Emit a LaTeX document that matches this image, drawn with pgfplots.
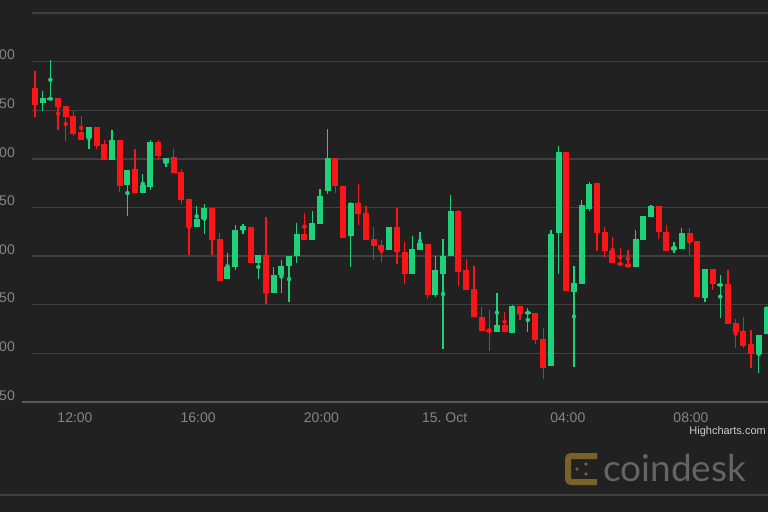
\documentclass[border=0pt]{standalone}
\usepackage{pgfplots}
\usepackage{pgfplotstable}
\pgfplotsset{compat=1.18}
\usepackage{fontspec}
\setmainfont{Liberation Sans}
\newfontfamily\logofont{Lato}

\definecolor{bg}{HTML}{212121}
\definecolor{gridc}{HTML}{404040}
\definecolor{axisc}{HTML}{585858}
\definecolor{ticklab}{HTML}{858585}
\definecolor{cred}{RGB}{250,22,22}
\definecolor{cgreen}{RGB}{30,210,122}
\definecolor{hcgrey}{HTML}{CCCCCC}
\definecolor{logotext}{HTML}{646464}
\definecolor{logogold}{HTML}{7A6128}

% 15-minute candles, x in hours from 14 Oct 00:00
% x open high low close
\pgfplotstableread{
x o h l c
10.75 8473 8490 8443 8456
11.50 8463 8463 8430 8453
11.75 8454 8454 8418 8443
12.00 8444 8449 8424 8426
12.25 8428 8444 8420 8420
12.75 8433 8433 8410 8413
13.00 8415 8419 8399 8399
13.50 8419 8419 8366 8372
14.00 8390 8410 8365 8365
14.75 8417 8419 8399 8403
15.25 8402 8410 8386 8386
15.50 8387 8390 8354 8358
15.75 8359 8359 8301 8330
16.50 8349 8349 8301 8317
16.75 8318 8324 8275 8275
17.75 8330 8330 8293 8293
18.25 8301 8340 8251 8262
19.50 8323 8344 8317 8317
20.50 8401 8401 8365 8372
20.75 8372 8372 8319 8319
21.25 8355 8374 8332 8343
21.50 8344 8352 8317 8317
21.75 8318 8330 8296 8311
22.00 8312 8317 8294 8306
22.50 8330 8350 8292 8304
22.75 8304 8315 8271 8282
23.50 8312 8312 8256 8260
24.50 8347 8347 8269 8284
24.75 8286 8297 8265 8265
25.00 8266 8290 8237 8237
25.25 8238 8248 8223 8223
25.50 8224 8245 8203 8222
26.00 8229 8243 8222 8222
26.50 8249 8249 8234 8240
27.00 8242 8242 8210 8214
27.25 8215 8226 8174 8185
28.00 8407 8407 8264 8264
29.00 8375 8375 8305 8324
29.25 8325 8330 8298 8305
29.50 8305 8320 8293 8293
29.75 8293 8308 8290 8291
30.00 8292 8306 8289 8289
31.00 8352 8352 8318 8325
31.25 8325 8332 8305 8305
32.00 8324 8329 8301 8315
32.25 8316 8316 8258 8258
32.75 8287 8287 8265 8271
33.25 8271 8286 8230 8230
33.50 8231 8235 8206 8222
33.75 8223 8237 8206 8208
34.00 8210 8224 8185 8199
}\redtab

\pgfplotstableread{
x o h l c
11.00 8458 8470 8449 8463
11.25 8461 8502 8461 8463
12.50 8421 8433 8410 8433
13.25 8399 8430 8399 8419
13.75 8373 8389 8341 8389
14.25 8365 8384 8365 8373
14.50 8371 8419 8368 8417
15.00 8396 8401 8392 8401
16.00 8330 8352 8330 8338
16.25 8338 8354 8323 8350
17.00 8276 8303 8276 8289
17.25 8289 8332 8286 8327
17.50 8327 8333 8323 8331
18.00 8293 8301 8277 8301
18.50 8262 8289 8262 8281
18.75 8281 8296 8262 8290
19.00 8290 8300 8253 8300
19.25 8300 8334 8293 8323
19.75 8317 8346 8317 8334
20.00 8333 8369 8333 8362
20.25 8367 8431 8364 8401
21.00 8321 8356 8289 8355
22.25 8306 8330 8306 8330
23.00 8282 8321 8282 8307
23.25 8306 8325 8306 8314
23.75 8260 8300 8258 8286
24.00 8282 8318 8204 8300
24.25 8300 8363 8300 8347
25.75 8222 8262 8222 8229
26.25 8221 8250 8221 8249
26.75 8241 8247 8222 8243
27.50 8187 8327 8187 8323
27.75 8324 8413 8282 8407
28.25 8263 8290 8186 8272
28.50 8271 8358 8271 8353
28.75 8349 8376 8346 8374
30.25 8289 8327 8289 8318
30.50 8317 8341 8317 8341
30.75 8340 8353 8340 8352
31.50 8306 8315 8303 8309
31.75 8307 8329 8307 8324
32.50 8257 8287 8253 8287
33.00 8270 8281 8236 8271
34.25 8199 8219 8180 8219
34.50 8220 8249 8220 8248
}\greentab

\begin{document}
\begin{tikzpicture}[x=1pt,y=1pt]
\path[use as bounding box, fill=bg] (0,0) rectangle (768,512);
\clip (0,0) rectangle (768,512);
\begin{axis}[
  at={(32pt,110pt)}, anchor=south west,
  width=736pt, height=389pt, scale only axis,
  xmin=10.653, xmax=34.549, ymin=8150, ymax=8550,
  axis line style={draw=none},
  major tick length=0pt,
  ymajorgrids, grid style={line width=1.3pt, draw=gridc},
  ytick={8150,8200,8250,8300,8350,8400,8450,8500,8550},
  yticklabels={50,00,50,00,50,00,50,00,{}},
  xtick={12,16,20,24,28,32},
  xticklabels={12:00,16:00,20:00,15.\ Oct,04:00,08:00},
  ticklabel style={font=\fontsize{14}{16}\selectfont, text=ticklab, inner sep=0pt},
  yticklabel style={anchor=south east, xshift=-17pt, yshift=1.5pt},
  xticklabel style={anchor=north, yshift=-11pt, xshift=1.5pt},
]
% wicks
\addplot[only marks, mark=none, cred,
  error bars/.cd, y dir=both, y explicit, error mark=none,
  error bar style={line width=1.3pt, cred}]
  table[x=x, y expr={(\thisrow{h}+\thisrow{l})/2},
        y error expr={(\thisrow{h}-\thisrow{l})/2}] {\redtab};
\addplot[only marks, mark=none, cgreen,
  error bars/.cd, y dir=both, y explicit, error mark=none,
  error bar style={line width=1.3pt, cgreen}]
  table[x=x, y expr={(\thisrow{h}+\thisrow{l})/2},
        y error expr={(\thisrow{h}-\thisrow{l})/2}] {\greentab};
% bodies
\addplot[only marks, mark=none, cred,
  error bars/.cd, y dir=both, y explicit, error mark=none,
  error bar style={line width=6pt, cred}]
  table[x=x, y expr={(\thisrow{o}+\thisrow{c})/2},
        y error expr={max(abs(\thisrow{o}-\thisrow{c})/2,0.9)}] {\redtab};
\addplot[only marks, mark=none, cgreen,
  error bars/.cd, y dir=both, y explicit, error mark=none,
  error bar style={line width=6pt, cgreen}]
  table[x=x, y expr={(\thisrow{o}+\thisrow{c})/2},
        y error expr={max(abs(\thisrow{o}-\thisrow{c})/2,0.9)}] {\greentab};
\end{axis}
% x axis line and footer
\draw[line width=1.3pt, axisc] (22,110) -- (768,110);
\node[anchor=east, inner sep=0pt, font=\fontsize{11}{13}\selectfont, text=hcgrey] at (766,80) {Highcharts.com};
\draw[line width=1.5pt, gridc] (0,17) -- (768,17);
% coindesk logo
\draw[logogold, line width=6pt, rounded corners=3pt] (597,56) -- (568,56) -- (568,30) -- (597,30);
\fill[logogold] (586,48) circle (1.8pt) (586,38) circle (1.8pt) (577,43) circle (1.8pt);
\node[anchor=west, inner sep=0pt, font=\logofont\fontsize{37}{40}\selectfont, text=logotext] at (603,44) {coindesk};
\end{tikzpicture}
\end{document}
